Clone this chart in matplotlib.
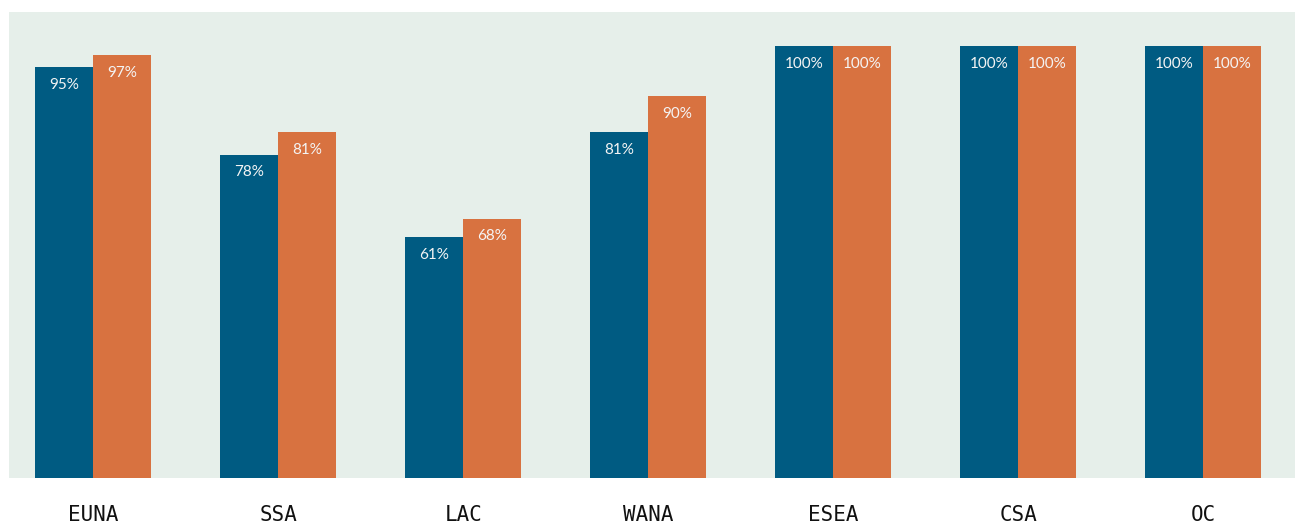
import matplotlib
matplotlib.use("Agg")
import matplotlib.pyplot as plt
import numpy as np

categories = ["EUNA", "SSA", "LAC", "WANA", "ESEA", "CSA", "OC"]
# bar heights as drawn (percent)
series_a = [95.1, 74.8, 55.8, 80.1, 100, 100, 100]
series_b = [97.9, 80.1, 60.0, 88.4, 100, 100, 100]
# labels printed on the bars
labels_a = ["95%", "78%", "61%", "81%", "100%", "100%", "100%"]
labels_b = ["97%", "81%", "68%", "90%", "100%", "100%", "100%"]

blue = "#005b82"
orange = "#d87240"
panel = "#e6efea"

fig = plt.figure(figsize=(12.99, 5.23), dpi=100)
ax = fig.add_axes([9/1299, 1-478/523, 1286/1299, 466/523])
ax.set_facecolor(panel)

x = np.arange(len(categories))
w = 0.3136
ba = ax.bar(x - w/2, series_a, width=w, color=blue)
bb = ax.bar(x + w/2, series_b, width=w, color=orange)

for bars, vals, labs in ((ba, series_a, labels_a), (bb, series_b, labels_b)):
    for r, v, t in zip(bars, vals, labs):
        ax.annotate(t, (r.get_x() + r.get_width()/2, v),
                    xytext=(0, -17.5), textcoords="offset pixels",
                    ha="center", va="center", color="#f4f4f4",
                    fontsize=11, family=["Lato", "DejaVu Sans"])

ax.set_xlim(-0.456, 6.497)
ax.set_ylim(0, 107.9)
ax.set_xticks(x)
ax.set_xticklabels(categories, family="DejaVu Sans Mono", fontsize=15, color="#111111")
ax.tick_params(axis="x", length=0, pad=19.5)
ax.set_yticks([])
for s in ax.spines.values():
    s.set_visible(False)

fig.savefig("out.png", dpi=100, facecolor="white")
